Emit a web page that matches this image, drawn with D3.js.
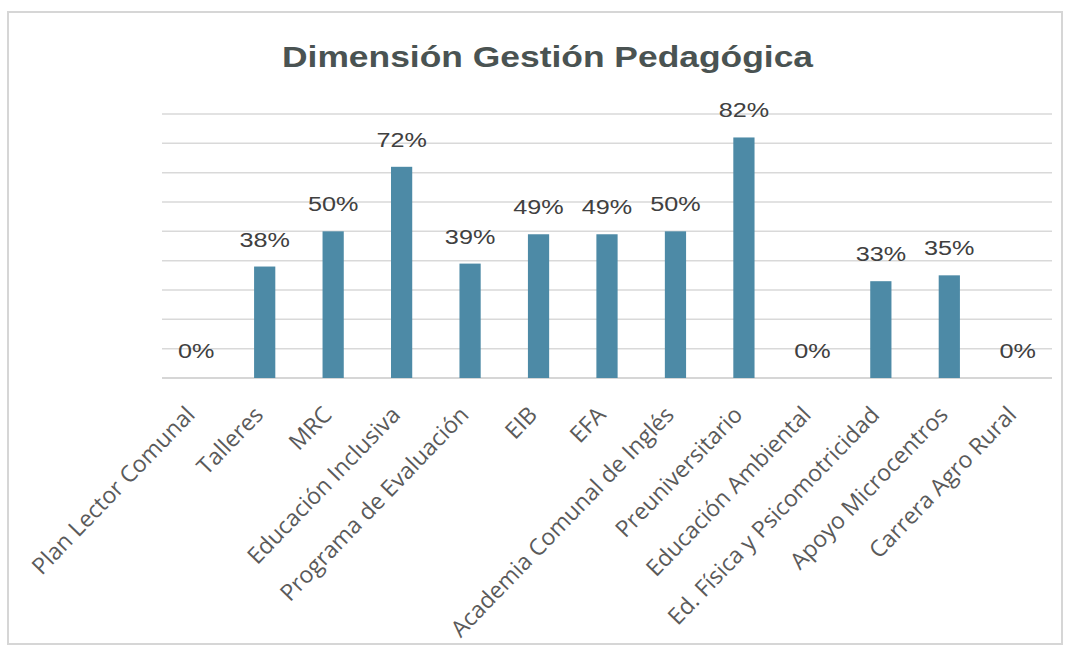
<!DOCTYPE html>
<html>
<head>
<meta charset="utf-8">
<script src="https://cdn.jsdelivr.net/npm/d3@7"></script>
<style>
	body { margin: 0; background: #fff; }
</style>
</head>
<body>
<div id="barchart"></div>
<script>
var categories = [
	'Plan Lector Comunal', 'Talleres', 'MRC', 'Educación Inclusiva', 'Programa de Evaluación',
	'EIB', 'EFA', 'Academia Comunal de Inglés', 'Preuniversitario', 'Educación Ambiental',
	'Ed. Física y Psicomotricidad', 'Apoyo Microcentros', 'Carrera Agro Rural'
];
var values = [0, 38, 50, 72, 39, 49, 49, 50, 82, 0, 33, 35, 0];
var gridTicks = [0, 10, 20, 30, 40, 50, 60, 70, 80, 90];
var title = 'Dimensión Gestión Pedagógica';

var data = categories.map(function(c, i) { return { name: c, value: values[i] }; });

var svg = d3.select('#barchart').append('svg').attr('width', 1072).attr('height', 652);

// chart frame
svg.append('rect')
	.attr('x', 8).attr('y', 12)
	.attr('width', 1054).attr('height', 632)
	.attr('fill', '#fff')
	.attr('stroke', '#d6d6d6')
	.attr('stroke-width', 2);

var xScale = d3.scaleBand()
	.domain(categories)
	.range([162, 1052])
	.paddingInner(0.69)
	.paddingOuter(0.345);

var yScale = d3.scaleLinear()
	.domain([0, 90])
	.range([378, 114]);

// gridlines
svg.append('g')
	.selectAll('line')
	.data(gridTicks)
	.enter()
	.append('line')
	.attr('x1', 162)
	.attr('x2', 1052)
	.attr('y1', function(d) { return yScale(d); })
	.attr('y2', function(d) { return yScale(d); })
	.attr('stroke', function(d) { return d === 0 ? '#c8c8c8' : '#d9d9d9'; })
	.attr('stroke-width', 1.5);

svg.append('g')
	.selectAll('rect')
	.data(data)
	.enter()
	.append('rect')
	.attr('x', function(d) { return xScale(d.name); })
	.attr('y', function(d) { return yScale(d.value); })
	.attr('width', xScale.bandwidth())
	.attr('height', function(d) { return yScale(0) - yScale(d.value); })
	.attr('fill', '#4d8aa6');

// value labels
svg.append('g')
	.selectAll('text')
	.data(data)
	.enter()
	.append('text')
	.attr('transform', function(d) {
		var cx = xScale(d.name) + xScale.bandwidth() / 2;
		return 'translate(' + cx + ',' + (yScale(d.value) - 20) + ') scale(1.2,1)';
	})
	.attr('text-anchor', 'middle')
	.attr('font-family', 'Liberation Sans, Arial, sans-serif')
	.attr('font-size', 21)
	.attr('fill', '#404040')
	.text(function(d) { return d.value + '%'; });

// category labels
var xAxis = d3.axisBottom(xScale).tickSize(0).tickPadding(0);

var xAxisG = svg.append('g')
	.attr('id', 'xAxisG')
	.attr('transform', 'translate(0,378)')
	.call(xAxis);

xAxisG.select('.domain').remove();

xAxisG.selectAll('text')
	.attr('font-family', 'Open Sans, sans-serif')
	.attr('font-size', 23)
	.attr('fill', '#5a5a5a')
	.attr('text-anchor', 'end')
	.attr('dy', 0)
	.attr('transform', 'translate(0,38) rotate(-46)');

svg.append('text')
	.attr('x', 282)
	.attr('y', 67)
	.attr('textLength', 531)
	.attr('lengthAdjust', 'spacingAndGlyphs')
	.attr('font-family', 'Liberation Sans, Arial, sans-serif')
	.attr('font-weight', 'bold')
	.attr('font-size', 30)
	.attr('fill', '#4a5352')
	.text(title);
</script>
</body>
</html>
